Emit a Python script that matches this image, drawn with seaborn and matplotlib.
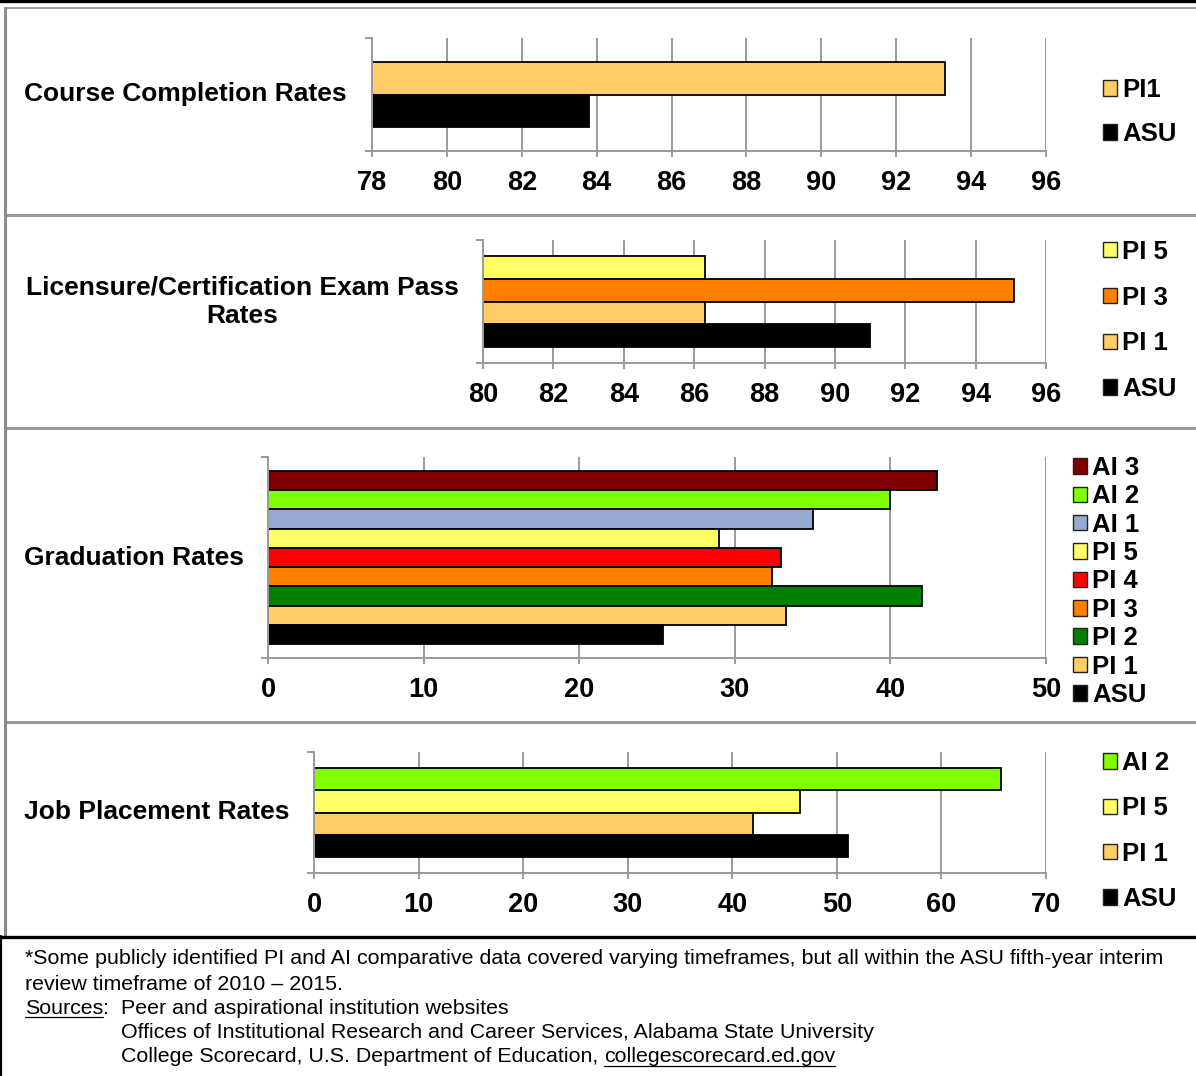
import pandas as pd
import matplotlib
matplotlib.use("Agg")
import matplotlib.pyplot as plt
from matplotlib.patches import Patch
from matplotlib.lines import Line2D
import seaborn as sns

# ============================
# COLOURS
# ============================
ASU_C = "#000000"
PI1_C = "#FFCC66"
PI2_C = "#008000"
PI3_C = "#FF8000"
PI4_C = "#FF0000"
PI5_C = "#FFFF66"
AI1_C = "#95A9D1"
AI2_C = "#80FF00"
AI3_C = "#800000"
GRID = "#9a9a9a"

# ============================
# DATA (top bar first)
# ============================
course_labels = ["PI1", "ASU"]
course_values = [93.3, 83.8]
course_colors = [PI1_C, ASU_C]
course_ticks = [78, 80, 82, 84, 86, 88, 90, 92, 94, 96]

exam_labels = ["PI 5", "PI 3", "PI 1", "ASU"]
exam_values = [86.3, 95.1, 86.3, 91.0]
exam_colors = [PI5_C, PI3_C, PI1_C, ASU_C]
exam_ticks = [80, 82, 84, 86, 88, 90, 92, 94, 96]

grad_labels = ["AI 3", "AI 2", "AI 1", "PI 5", "PI 4", "PI 3", "PI 2", "PI 1", "ASU"]
grad_values = [43.0, 40.0, 35.0, 29.0, 33.0, 32.4, 42.0, 33.3, 25.4]
grad_colors = [AI3_C, AI2_C, AI1_C, PI5_C, PI4_C, PI3_C, PI2_C, PI1_C, ASU_C]
grad_ticks = [0, 10, 20, 30, 40, 50]

job_labels = ["AI 2", "PI 5", "PI 1", "ASU"]
job_values = [65.7, 46.5, 42.0, 51.1]
job_colors = [AI2_C, PI5_C, PI1_C, ASU_C]
job_ticks = [0, 10, 20, 30, 40, 50, 60, 70]

row_titles = ["Course Completion Rates",
              "Licensure/Certification Exam Pass\nRates",
              "Graduation Rates",
              "Job Placement Rates"]

sns.set_theme(style="white")
plt.rcParams["font.family"] = ["Liberation Sans", "DejaVu Sans"]
plt.rcParams["text.color"] = "black"
plt.rcParams["xtick.color"] = "black"
plt.rcParams["ytick.color"] = "black"

W, H = 1196, 1076
fig = plt.figure(figsize=(W / 100, H / 100), dpi=100)


def fx(x):
    return x / W


def fy(y):
    return 1 - y / H


def panel(rect, labels, values, colors, ticks, pad=0.72):
    # rect in pixels: left, top, right, bottom
    l, t, r, b = rect
    ax = fig.add_axes([fx(l), fy(b), fx(r) - fx(l), fy(t) - fy(b)])
    df = pd.DataFrame({"inst": labels, "rate": values})
    sns.barplot(data=df, x="rate", y="inst", hue="inst", order=labels,
                hue_order=labels, palette=dict(zip(labels, colors)),
                saturation=1, dodge=False, width=1.0, edgecolor="black",
                linewidth=1.3, legend=False, ax=ax)
    n = len(labels)
    lo, hi = n - 0.5 + pad, -0.5 - pad
    ax.set_ylim(lo, hi)
    ax.set_yticks([lo, hi])
    ax.set_yticklabels([])
    ax.set_xlim(ticks[0], ticks[-1])
    ax.set_xticks(ticks)
    ax.set_xticklabels([str(v) for v in ticks], fontweight="bold", fontsize=19.5)
    ax.set_xlabel("")
    ax.set_ylabel("")
    ax.set_axisbelow(True)
    ax.xaxis.grid(True, color=GRID, lw=1.4)
    ax.yaxis.grid(False)
    for s in ["top", "right"]:
        ax.spines[s].set_visible(False)
    for s in ["left", "bottom"]:
        ax.spines[s].set_color(GRID)
        ax.spines[s].set_linewidth(1.4)
    ax.tick_params(axis="x", length=4, width=1.4, color=GRID, pad=10,
                   labelcolor="black", bottom=True)
    ax.tick_params(axis="y", length=5, width=1.4, color=GRID, left=True)
    return ax


def legend(labels, colors, x_left, y_center, spacing):
    handles = [Patch(facecolor=c, edgecolor="#222222", lw=1.0) for c in colors]
    fig.legend(handles, labels, loc="center left",
               bbox_to_anchor=(fx(x_left), fy(y_center)), frameon=False,
               borderpad=0, borderaxespad=0, handlelength=0.55,
               handleheight=0.55, handletextpad=0.2, labelspacing=spacing,
               labelcolor="black", prop={"weight": "bold", "size": 18.5})


panel((372, 38, 1046, 151), course_labels, course_values, course_colors, course_ticks)
panel((483, 240, 1046, 363), exam_labels, exam_values, exam_colors, exam_ticks)
panel((268, 457, 1046, 658), grad_labels, grad_values, grad_colors, grad_ticks)
panel((314, 752, 1046, 873), job_labels, job_values, job_colors, job_ticks)

legend(course_labels, course_colors, 1103, 112, 0.78)
legend(exam_labels, exam_colors, 1103, 320.5, 0.85)
legend(grad_labels, grad_colors, 1073, 581.5, 0.17)
legend(job_labels, job_colors, 1103, 831, 0.83)

# row titles
fig.text(fx(24), fy(94), row_titles[0], fontsize=19, fontweight="bold", va="center")
fig.text(fx(242), fy(302), row_titles[1], fontsize=19, fontweight="bold",
         va="center", ha="center", linespacing=1.25)
fig.text(fx(24), fy(558), row_titles[2], fontsize=19, fontweight="bold", va="center")
fig.text(fx(24), fy(812), row_titles[3], fontsize=19, fontweight="bold", va="center")


# table borders
def hline(y, x0, x1, color, lw):
    fig.add_artist(Line2D([fx(x0), fx(x1)], [fy(y), fy(y)], color=color, lw=lw,
                          transform=fig.transFigure))


def vline(x, y0, y1, color, lw):
    fig.add_artist(Line2D([fx(x), fx(x)], [fy(y0), fy(y1)], color=color, lw=lw,
                          transform=fig.transFigure))


hline(1.3, 0, W, "black", 2.4)
hline(8.3, 5, W, "#a0a0a0", 1.5)
for yy in [214.5, 427.5, 721.5]:
    hline(yy, 5, W, "#999999", 2.2)
vline(5, 8, 936, "#8c8c8c", 2.2)
hline(936.5, 0, W, "black", 2.4)
vline(1, 936, H, "black", 1.6)

# footer
FS = 15.4
fig.text(fx(25), fy(959), "*Some publicly identified PI and AI comparative data covered varying "
         "timeframes, but all within the ASU fifth-year interim", fontsize=FS, va="center")
fig.text(fx(25), fy(984), "review timeframe of 2010 \u2013 2015.", fontsize=FS, va="center")
t_src = fig.text(fx(25), fy(1008), "Sources", fontsize=FS, va="center")
fig.text(fx(121), fy(1008), "Peer and aspirational institution websites", fontsize=FS, va="center")
fig.text(fx(121), fy(1033), "Offices of Institutional Research and Career Services, "
         "Alabama State University", fontsize=FS, va="center")
t_cs = fig.text(fx(121), fy(1057), "College Scorecard, U.S. Department of Education, ",
                fontsize=FS, va="center")

renderer = fig.canvas.get_renderer()
bb = t_src.get_window_extent(renderer)
fig.text(bb.x1 / W, fy(1008), ":", fontsize=FS, va="center")
hline(H - bb.y0 - 1, bb.x0, bb.x1, "black", 0.9)

bb2 = t_cs.get_window_extent(renderer)
t_url = fig.text(bb2.x1 / W, fy(1057), "collegescorecard.ed.gov", fontsize=FS, va="center")
bb3 = t_url.get_window_extent(renderer)
hline(H - bb3.y0 - 1, bb3.x0, bb3.x1, "black", 0.9)

fig.savefig("out.png", dpi=100)
